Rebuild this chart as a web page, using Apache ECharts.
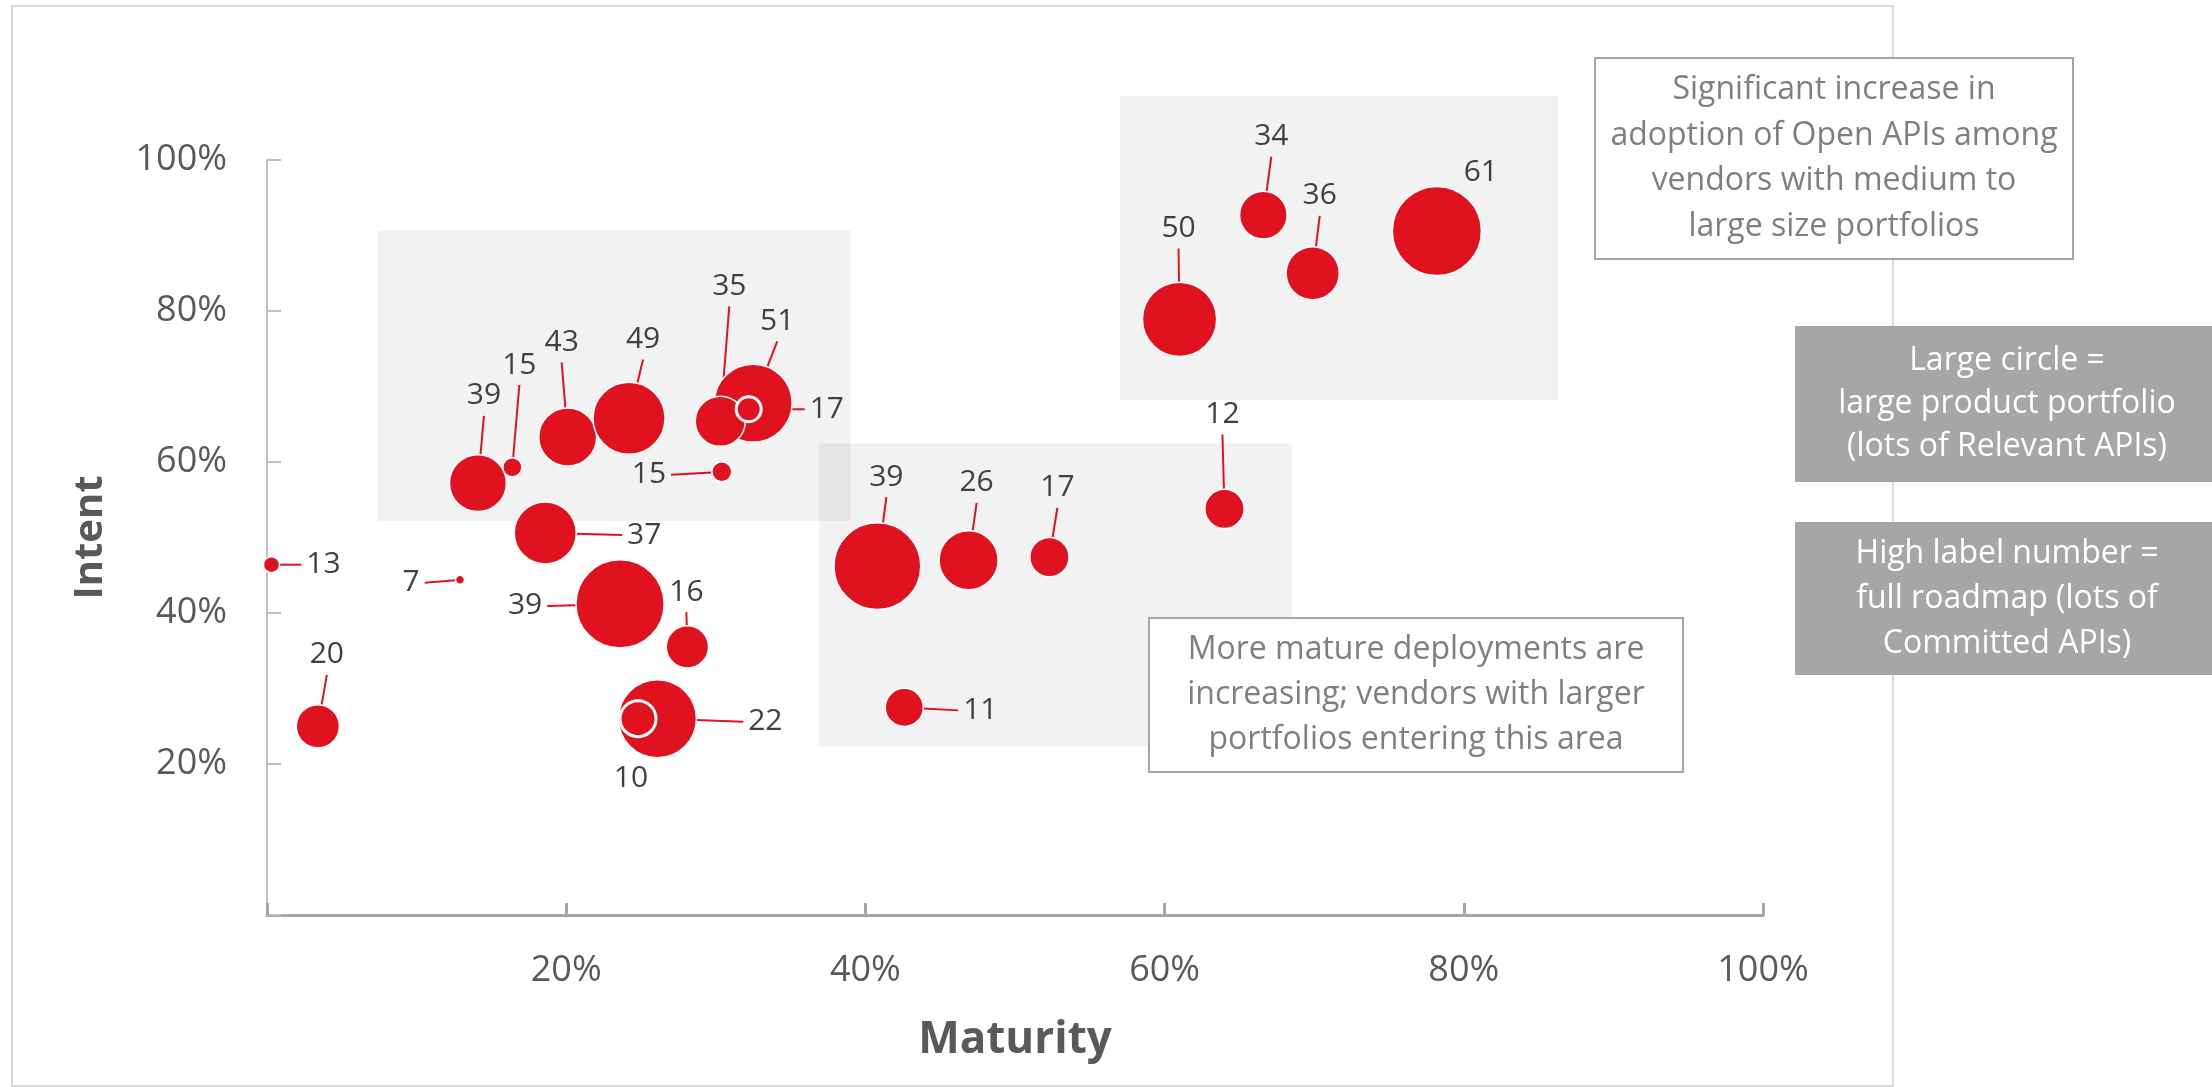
<!DOCTYPE html>
<html>
<head>
<meta charset="utf-8">
<script src="https://cdn.jsdelivr.net/npm/echarts@6/dist/echarts.min.js"></script>
<style>
html,body{margin:0;padding:0;background:#ffffff;}
#chart{width:2212px;height:1087px;}
</style>
</head>
<body>
<div id="chart"></div>
<script>
// ---------------- DATA ----------------
// label number = Committed APIs (full roadmap)
const committed = [13, 7, 20, 39, 15, 43, 49, 51, 35, 17, 15, 37, 39, 16, 22, 10, 39, 26, 17, 12, 11, 50, 34, 36, 61];
// Maturity (%)
const maturity  = [0.3, 12.9, 3.4, 14.1, 16.4, 20.1, 24.2, 32.5, 30.3, 32.2, 30.4, 18.6, 23.6, 28.1, 26.1, 24.8, 40.8, 46.9, 52.3, 64.0, 42.6, 61.0, 66.6, 69.9, 78.2];
// Intent (%)
const intent    = [46.4, 44.4, 25.0, 57.2, 59.3, 63.3, 65.8, 67.8, 65.4, 67.0, 58.7, 50.6, 41.2, 35.5, 26.0, 26.0, 46.2, 47.0, 47.4, 53.8, 27.5, 78.9, 92.7, 85.0, 90.6];
// Portfolio size (Relevant APIs, relative) -> bubble area
const portfolio = [3.2, 1, 23, 40, 4.5, 41.5, 64, 75, 31, 7.7, 4.9, 47.5, 96, 22, 75, 16, 93, 43, 19, 19, 18, 68, 28, 35, 98];
// Highlighted zones in data units: [xFrom, xTo, yFrom, yTo]
const zones = [
  [7.4, 39.0, 52.2, 90.7],
  [36.9, 68.5, 22.3, 62.5],
  [57.0, 86.3, 68.2, 108.5]
];
const xTickValues = [0, 20, 40, 60, 80, 100];
const yTickValues = [0, 20, 40, 60, 80, 100];

// ---------------- LAYOUT / STYLE (not data) ----------------
// label placement per bubble: [position, distance, dx, dy, showLeaderLine]
const labelPlacement = [
  ['right', 21, 0, 0, true],
  ['left', 30, 0, 3, true],
  ['top', 29, 9, 0, true],
  ['top', 38, 6, 0, true],
  ['top', 72, 7, 0, true],
  ['top', 45, -6, 0, true],
  ['top', 22, 14, 0, true],
  ['top', 22, 24, 0, true],
  ['top', 89, 9, 0, true],
  ['right', 42, 0, 0, true],
  ['left', 40, 0, 3, true],
  ['right', 45, 0, 2, true],
  ['left', 28, 0, 2, true],
  ['top', 13, -1, 0, true],
  ['right', 46, 0, 3, true],
  ['bottom', 20, -7, 0, false],
  ['top', 25, 9, 0, true],
  ['top', 27, 8, 0, true],
  ['top', 29, 8, 0, true],
  ['top', 54, -2, 0, true],
  ['right', 34, 0, 3, true],
  ['top', 33, -1, 0, true],
  ['top', 34, 8, 0, true],
  ['top', 30, 7, 0, true],
  ['top', 0, 44, 7, false]
];
const ringed = [9, 15];

const FONT = '"Open Sans", "DejaVu Sans", sans-serif';
const RED = '#e1121f';
const SIZE_K = 9;

const boxes = [
  {x: 1595, y: 58, w: 478, h: 201, fill: '#ffffff', stroke: '#a6a6a6', color: '#7f7f7f', lh: 45.5,
   text: 'Significant increase in\nadoption of Open APIs among\nvendors with medium to\nlarge size portfolios'},
  {x: 1149, y: 618, w: 534, h: 154, fill: '#ffffff', stroke: '#a6a6a6', color: '#7f7f7f', lh: 45,
   text: 'More mature deployments are\nincreasing; vendors with larger\nportfolios entering this area'},
  {x: 1795, y: 326, w: 424, h: 156, fill: '#a6a6a6', stroke: null, color: '#ffffff', lh: 43,
   text: 'Large circle =\nlarge product portfolio\n(lots of Relevant APIs)'},
  {x: 1795, y: 522, w: 424, h: 153, fill: '#a6a6a6', stroke: null, color: '#ffffff', lh: 45,
   text: 'High label number =\nfull roadmap (lots of\nCommitted APIs)'}
];

// ---------------- CHART ----------------
const chart = echarts.init(document.getElementById('chart'), null, {renderer: 'canvas'});

const points = committed.map((c, i) => {
  const lp = labelPlacement[i];
  const item = {
    value: [maturity[i], intent[i], portfolio[i]],
    label: {position: lp[0], distance: lp[1], offset: [lp[2], lp[3]]},
    labelLine: {show: lp[4]}
  };
  if (ringed.indexOf(i) >= 0) item.itemStyle = {borderWidth: 3};
  return item;
});

const pctFmt = v => (v === 0 ? '' : v + '%');

chart.setOption({
  animation: false,
  backgroundColor: '#ffffff',
  grid: {left: 267, right: 449, top: 160, bottom: 172, containLabel: false, outerBoundsMode: 'none'},
  xAxis: {
    type: 'value', min: xTickValues[0], max: xTickValues[xTickValues.length - 1], interval: 20,
    axisLine: {show: true, onZero: false, lineStyle: {color: '#a6a6a6', width: 3}},
    axisTick: {show: true, inside: true, length: 12, lineStyle: {color: '#a6a6a6', width: 3}},
    axisLabel: {formatter: pctFmt, color: '#595959', fontSize: 36, fontFamily: FONT, margin: 38},
    splitLine: {show: false},
    name: 'Maturity', nameLocation: 'middle', nameGap: 103,
    nameTextStyle: {color: '#595959', fontSize: 44, fontWeight: 'bold', fontFamily: FONT}
  },
  yAxis: {
    type: 'value', min: yTickValues[0], max: yTickValues[yTickValues.length - 1], interval: 20,
    axisLine: {show: true, onZero: false, lineStyle: {color: '#bfbfbf', width: 2}},
    axisTick: {show: true, inside: true, length: 14, lineStyle: {color: '#bfbfbf', width: 2}},
    axisLabel: {formatter: pctFmt, color: '#595959', fontSize: 36, fontFamily: FONT, margin: 40},
    splitLine: {show: false},
    name: 'Intent', nameLocation: 'middle', nameGap: 156,
    nameTextStyle: {color: '#595959', fontSize: 40, fontWeight: 'bold', fontFamily: FONT}
  },
  series: [{
    type: 'scatter',
    data: points,
    symbol: 'circle',
    symbolSize: v => SIZE_K * Math.sqrt(v[2]),
    itemStyle: {color: RED, borderColor: '#ffffff', borderWidth: 1.5, opacity: 1},
    label: {
      show: true,
      formatter: p => String(committed[p.dataIndex]),
      color: '#404040', fontSize: 30, fontFamily: FONT, lineHeight: 30,
      padding: 5, backgroundColor: 'rgba(255,255,255,0)'
    },
    labelLine: {show: true, length2: 0, lineStyle: {color: RED, width: 2}},
    emphasis: {disabled: true},
    clip: false,
    z: 5
  }]
});

// zones placed through the chart's own scales
const zoneGraphics = zones.map(z => {
  const p0 = chart.convertToPixel({gridIndex: 0}, [z[0], z[3]]);
  const p1 = chart.convertToPixel({gridIndex: 0}, [z[1], z[2]]);
  return {
    type: 'rect', z: 0, silent: true,
    shape: {x: p0[0], y: p0[1], width: p1[0] - p0[0], height: p1[1] - p0[1]},
    style: {fill: 'rgba(0,0,0,0.05)'}
  };
});

const borderGraphic = {
  type: 'rect', z: 1, silent: true,
  shape: {x: 12, y: 6, width: 1881, height: 1080},
  style: {fill: null, stroke: '#d9d9d9', lineWidth: 2}
};

const boxGraphics = [];
boxes.forEach(b => {
  boxGraphics.push({
    type: 'rect', z: 20, silent: true,
    shape: {x: b.x, y: b.y, width: b.w, height: b.h},
    style: {fill: b.fill, stroke: b.stroke, lineWidth: b.stroke ? 2 : 0}
  });
  boxGraphics.push({
    type: 'text', z: 21, silent: true,
    x: b.x + b.w / 2, y: b.y + b.h / 2,
    style: {
      text: b.text, fill: b.color, fontSize: 32, fontFamily: FONT,
      align: 'center', verticalAlign: 'middle', textAlign: 'center', textVerticalAlign: 'middle',
      lineHeight: b.lh
    }
  });
});

chart.setOption({graphic: {elements: [borderGraphic].concat(zoneGraphics, boxGraphics)}});
</script>
</body>
</html>
